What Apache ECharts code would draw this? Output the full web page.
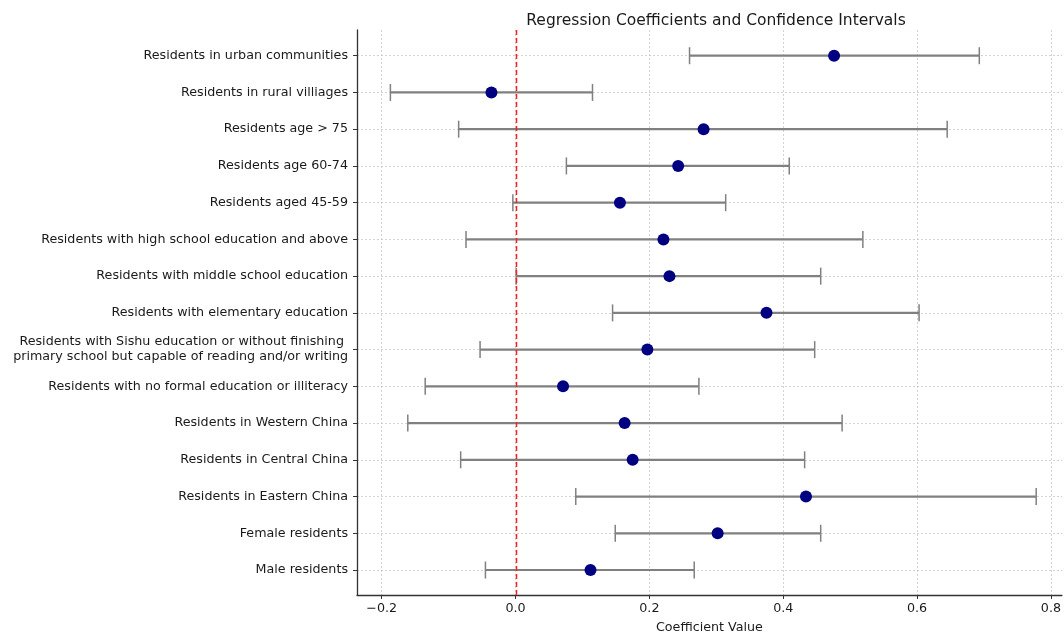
<!DOCTYPE html>
<html>
<head>
<meta charset="utf-8">
<script src="https://cdn.jsdelivr.net/npm/echarts@6/dist/echarts.min.js"></script>
<style>html,body{margin:0;padding:0;background:#fff}#chart{width:1064px;height:639px}</style>
</head>
<body>
<div id="chart"></div>
<script>
// Categories listed top to bottom as in the picture
const categories = [
  'Residents in urban communities',
  'Residents in rural villiages',
  'Residents age > 75',
  'Residents age 60-74',
  'Residents aged 45-59',
  'Residents with high school education and above',
  'Residents with middle school education',
  'Residents with elementary education',
  'Residents with Sishu education or without finishing \nprimary school but capable of reading and/or writing',
  'Residents with no formal education or illiteracy',
  'Residents in Western China',
  'Residents in Central China',
  'Residents in Eastern China',
  'Female residents',
  'Male residents'
];
const coefficients = [0.476, -0.036, 0.281, 0.243, 0.156, 0.221, 0.230, 0.375, 0.197, 0.071, 0.163, 0.175, 0.434, 0.302, 0.112];
const ciLower      = [0.260, -0.187, -0.085, 0.076, -0.004, -0.074, 0.001, 0.145, -0.053, -0.135, -0.161, -0.082, 0.090, 0.149, -0.045];
const ciUpper      = [0.693, 0.115, 0.645, 0.409, 0.314, 0.519, 0.456, 0.603, 0.447, 0.274, 0.488, 0.432, 0.778, 0.456, 0.267];
const xTicks = [-0.2, 0.0, 0.2, 0.4, 0.6, 0.8];
const xTickLabels = ['\u22120.2', '0.0', '0.2', '0.4', '0.6', '0.8'];
const referenceX = [0];

const n = categories.length;
const rowPos = categories.map((_, i) => n - 1 - i);
const errData = categories.map((_, i) => [ciLower[i], ciUpper[i], rowPos[i]]);
const ptData = categories.map((_, i) => [coefficients[i], rowPos[i]]);

const FONT = 'DejaVu Sans';
const TXT = '#1a1a1a';
const chart = echarts.init(document.getElementById('chart'), null, {renderer: 'canvas'});
chart.setOption({
  animation: false,
  backgroundColor: '#ffffff',
  title: {
    text: 'Regression Coefficients and Confidence Intervals',
    left: 711, top: 7.5, textAlign: 'center',
    textStyle: {fontFamily: FONT, fontSize: 15.5, fontWeight: 'normal', color: TXT}
  },
  grid: {left: 357, right: 0, top: 30, bottom: 40.5, containLabel: false},
  xAxis: {
    type: 'value', min: -0.2369, max: 0.8164,
    name: 'Coefficient Value', nameLocation: 'middle', nameGap: 26,
    nameTextStyle: {fontFamily: FONT, fontSize: 12.7, color: TXT},
    axisLine: {show: true, onZero: false, lineStyle: {color: '#333', width: 1.3}},
    axisTick: {show: true, length: 4, customValues: xTicks, lineStyle: {color: '#333'}},
    axisLabel: {
      customValues: xTicks, margin: 7,
      fontFamily: FONT, fontSize: 12.7, color: TXT,
      formatter: v => { const k = xTicks.findIndex(t => Math.abs(t - v) < 1e-9); return k >= 0 ? xTickLabels[k] : ''; }
    },
    splitLine: {show: true, lineStyle: {color: '#c8c8c8', width: 0.8, type: [2, 2]}}
  },
  yAxis: {
    type: 'value', min: -0.68, max: 14.7,
    axisLine: {show: true, onZero: false, lineStyle: {color: '#333', width: 1.3}},
    axisTick: {show: true, length: 4, customValues: rowPos.slice().reverse(), lineStyle: {color: '#333'}},
    axisLabel: {
      customValues: rowPos.slice().reverse(), margin: 9,
      fontFamily: FONT, fontSize: 12.7, color: TXT, lineHeight: 15,
      formatter: v => { const k = Math.round(v); return categories[n - 1 - k] || ''; }
    },
    splitLine: {show: true, lineStyle: {color: '#c8c8c8', width: 0.8, type: [2, 2]}}
  },
  series: [
    {
      type: 'custom', name: 'CI',
      data: errData,
      encode: {x: [0, 1], y: 2},
      renderItem: (params, api) => {
        const lo = api.coord([api.value(0), api.value(2)]);
        const hi = api.coord([api.value(1), api.value(2)]);
        const cap = 8.5;
        const style = {stroke: '#808080', lineWidth: 2.2};
        const capStyle = {stroke: '#808080', lineWidth: 1.5};
        return {
          type: 'group',
          children: [
            {type: 'line', shape: {x1: lo[0], y1: lo[1], x2: hi[0], y2: hi[1]}, style: style},
            {type: 'line', shape: {x1: lo[0], y1: lo[1] - cap, x2: lo[0], y2: lo[1] + cap}, style: capStyle},
            {type: 'line', shape: {x1: hi[0], y1: hi[1] - cap, x2: hi[0], y2: hi[1] + cap}, style: capStyle}
          ]
        };
      },
      z: 2
    },
    {
      type: 'custom', name: 'zero',
      data: referenceX.map(v => [v]),
      encode: {x: 0},
      renderItem: (params, api) => {
        const cs = params.coordSys;
        const x = Math.round(api.coord([api.value(0), 0])[0]) + 0.5;
        return {
          type: 'line',
          shape: {x1: x, y1: cs.y, x2: x, y2: cs.y + cs.height},
          style: {stroke: '#ff1f1f', lineWidth: 1.5, lineDash: [5, 3]}
        };
      },
      silent: true,
      z: 3
    },
    {
      type: 'scatter', name: 'Coefficient',
      data: ptData, symbol: 'circle', symbolSize: 12,
      itemStyle: {color: '#000080', opacity: 1},
      z: 4
    }
  ]
});
</script>
</body>
</html>
